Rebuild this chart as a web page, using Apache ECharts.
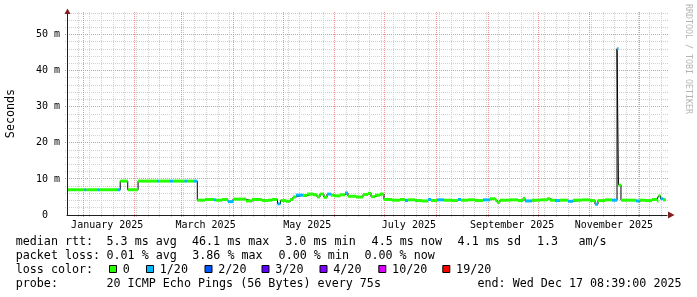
<!DOCTYPE html>
<html><head><meta charset="utf-8">
<script src="https://cdn.jsdelivr.net/npm/echarts@6/dist/echarts.min.js"></script>
<style>html,body{margin:0;padding:0;background:#fff}#c{width:697px;height:297px}</style>
</head><body><div id="c"></div>
<script>
// ---------- data ----------
const startTime = '2024-12-22T08:39';
const endTime = '2025-12-17T08:39';
const dataEndTime = '2025-12-16T18';
const yMin = 0, yMax = 56, yMinorStep = 2, yMajorStep = 10;
const yTickLabels = ['0  ', '10 m', '20 m', '30 m', '40 m', '50 m'];
const xTickLabels = ['January 2025', 'March 2025', 'May 2025', 'July 2025', 'September 2025', 'November 2025'];
const xTickLabelTimes = ['2025-01-15T12', '2025-03-15T12', '2025-05-15T12', '2025-07-15T12', '2025-09-15T12', '2025-11-15T12'];
const monthStarts = ['2025-01-01', '2025-02-01', '2025-03-01', '2025-04-01', '2025-05-01', '2025-06-01',
  '2025-07-01', '2025-08-01', '2025-09-01', '2025-10-01', '2025-11-01', '2025-12-01'];
const firstSunday = '2024-12-22';

// median rtt (ms) per segment start, and lost pings (of 20) for that segment
const medianTimes = ['2024-12-22T08:39', '2025-01-01T20', '2025-01-03', '2025-01-09T19', '2025-01-11', '2025-01-21T19',
  '2025-01-23T07', '2025-01-27T19', '2025-02-03', '2025-02-14T14', '2025-02-15T14', '2025-02-21T22', '2025-02-24',
  '2025-03-02T22', '2025-03-04T16', '2025-03-08T14', '2025-03-10T13', '2025-03-15T04', '2025-03-20T13', '2025-03-21T18',
  '2025-03-25T09', '2025-03-28T23', '2025-03-31T23', '2025-04-08T18', '2025-04-12T09', '2025-04-18T09', '2025-04-21T23',
  '2025-04-24T09', '2025-04-27T16', '2025-04-29T11', '2025-05-02T18', '2025-05-05T04', '2025-05-06T23', '2025-05-08T18',
  '2025-05-12T23', '2025-05-15T09', '2025-05-18T23', '2025-05-21T09', '2025-05-23T04', '2025-05-25T13', '2025-05-27T09',
  '2025-05-29T18', '2025-05-31T13', '2025-06-04T04', '2025-06-07T04', '2025-06-08T23', '2025-06-13T18', '2025-06-17T23',
  '2025-06-20T23', '2025-06-22T18', '2025-06-25T04', '2025-06-28T04', '2025-06-30T13', '2025-07-05T09', '2025-07-10T04',
  '2025-07-13T04', '2025-07-14T23', '2025-07-19T04', '2025-07-23T09', '2025-07-26T23', '2025-07-28T18', '2025-08-01T09',
  '2025-08-05T13', '2025-08-10T09', '2025-08-13T23', '2025-08-15T18', '2025-08-19T23', '2025-08-24T04', '2025-08-28T23',
  '2025-09-02T04', '2025-09-05T04', '2025-09-06T09', '2025-09-08T04', '2025-09-14T04', '2025-09-18T23', '2025-09-21T23',
  '2025-09-23T04', '2025-09-27T09', '2025-10-02T04', '2025-10-06T09', '2025-10-08T04', '2025-10-11T04', '2025-10-14T04',
  '2025-10-18T23', '2025-10-21T23', '2025-10-27T09', '2025-11-01T04', '2025-11-04T04', '2025-11-05T23', '2025-11-10T04',
  '2025-11-14T09', '2025-11-17T09', '2025-11-18T06', '2025-11-19T18', '2025-11-28T18', '2025-12-01T04', '2025-12-04T04',
  '2025-12-08T09', '2025-12-11T09', '2025-12-12T06', '2025-12-13T11', '2025-12-14T23'];
const medianValues = [7.0, 7.0, 7.0, 7.0, 7.0, 7.0,
  9.4, 7.0, 9.4, 9.4, 9.4, 9.4, 9.4,
  9.4, 9.4, 9.4, 4.1, 4.3, 4.2, 4.1,
  4.3, 3.7, 4.4, 3.9, 4.3, 4.0, 4.1,
  4.3, 3.1, 4.0, 3.8, 4.3, 5.0, 5.5,
  5.4, 5.8, 5.6, 5.0, 5.8, 4.9, 5.8,
  5.5, 5.3, 5.6, 6.1, 5.2, 5.0, 5.7,
  6.0, 5.1, 5.5, 5.8, 4.3, 4.1, 4.3,
  4.0, 4.2, 4.0, 3.9, 4.3, 4.0, 4.2,
  4.1, 4.0, 4.3, 4.1, 4.2, 4.0, 4.2,
  4.5, 4.1, 3.5, 4.1, 4.2, 4.0, 4.6,
  3.9, 4.1, 4.2, 4.5, 4.1, 4.0, 4.1,
  3.8, 4.1, 4.2, 4.0, 3.0, 4.0, 4.2,
  4.1, 46.1, 8.3, 4.1, 3.9, 4.1, 4.0,
  4.3, 3.9, 5.3, 4.5, 4.2];
const medianLoss = [0, 1, 0, 1, 0, 1,
  0, 0, 0, 1, 0, 1, 0,
  1, 0, 1, 0, 0, 1, 0,
  0, 1, 0, 0, 0, 0, 0,
  0, 1, 0, 0, 0, 0, 1,
  0, 0, 0, 0, 0, 0, 1,
  0, 0, 0, 1, 0, 0, 0,
  0, 0, 0, 0, 0, 0, 0,
  1, 0, 0, 0, 1, 0, 1,
  0, 0, 1, 0, 0, 0, 1,
  0, 0, 0, 0, 0, 0, 0,
  1, 0, 0, 0, 0, 1, 0,
  1, 0, 0, 0, 1, 0, 0,
  1, 1, 0, 0, 1, 0, 0,
  0, 0, 0, 1, 0];

const lossThresholds = [0, 1, 2, 3, 4, 10, 19];
const lossLabels = ['0', '1/20', '2/20', '3/20', '4/20', '10/20', '19/20'];
const lossColors = ['#26ff00', '#00b8ff', '#0059ff', '#5e00ff', '#7e00ff', '#dd00ff', '#ff0000'];

const rttStats = ['median rtt:', '5.3 ms avg', '46.1 ms max', '3.0 ms min', '4.5 ms now', '4.1 ms sd', '1.3', 'am/s'];
const lossStats = ['packet loss:', '0.01 % avg', '3.86 % max', '0.00 % min', '0.00 % now'];
const probeInfo = ['probe:', '20 ICMP Echo Pings (56 Bytes) every 75s', 'end: Wed Dec 17 08:39:00 2025'];
const yAxisTitle = 'Seconds';
const watermark = 'RRDTOOL / TOBI OETIKER';

// ---------- build ----------
function toMs(s) {
  if (s.length === 10) s += 'T00:00';
  else if (s.length === 13) s += ':00';
  return Date.parse(s + ':00Z');
}
const startMs = toMs(startTime), endMs = toMs(endTime);
const monthMs = monthStarts.map(toMs);
const labelMs = xTickLabelTimes.map(toMs);
const vGrid = [];
for (let t = toMs(firstSunday); t <= endMs; t += 7 * 86400000) if (t > startMs && monthMs.indexOf(t) < 0) vGrid.push([t, 0]);
monthMs.forEach(t => vGrid.push([t, 1]));
const hGrid = [];
for (let v = yMin + yMinorStep; v <= yMax; v += yMinorStep) hGrid.push([v, v % yMajorStep === 0 ? 1 : 0]);
const yMajorTicks = [];
for (let v = yMin; v <= yMax; v += yMajorStep) yMajorTicks.push(v);

const tMs = medianTimes.map(toMs);
const lineData = tMs.map((t, i) => [t, medianValues[i]]);
lineData.push([toMs(dataEndTime), medianValues[medianValues.length - 1]]);
const bandData = tMs.map((t, i) => [t, i + 1 < tMs.length ? tMs[i + 1] : toMs(dataEndTime), medianValues[i], medianLoss[i]]);
function lossColor(n) {
  let c = lossColors[0];
  for (let i = 0; i < lossThresholds.length; i++) if (n >= lossThresholds[i]) c = lossColors[i];
  return c;
}

const MONO = '"DejaVu Sans Mono", monospace';
const LF = '11.7px ' + MONO;
const MAJOR = '#e99494', MINOR = '#cfcfcf', AXIS = '#1f1f1f', ARROW = '#801f1f';
const crisp = v => Math.floor(v) + 0.5;

function txt(text, x, y, extra) {
  return Object.assign({
    type: 'text', x: x, y: y, silent: true,
    style: { text: text, font: LF, fill: '#000', textAlign: 'left', textVerticalAlign: 'middle', align: 'left', verticalAlign: 'middle' }
  }, extra || {});
}
const graphics = [];
[15.7, 106.5, 192, 285.3, 371.6, 457.6, 537, 578.5].forEach((x, i) => graphics.push(txt(rttStats[i], x, 242)));
[15.7, 106.5, 192.2, 278.6, 364.4].forEach((x, i) => graphics.push(txt(lossStats[i], x, 256)));
graphics.push(txt('loss color:', 15.7, 270));
const boxX = [109, 146, 204.5, 261.5, 319.5, 378.3, 442.3];
boxX.forEach((x, i) => {
  graphics.push({ type: 'rect', silent: true, shape: { x: x + 0.5, y: 265.5, width: 7, height: 7 },
    style: { fill: lossColors[i], stroke: '#000', lineWidth: 1 } });
  graphics.push(txt(lossLabels[i], x + 13.8, 270));
});
[15.7, 106.5, 477.5].forEach((x, i) => graphics.push(txt(probeInfo[i], x, 284.3)));
graphics.push({ type: 'text', x: 10.8, y: 113.5, rotation: Math.PI / 2, silent: true,
  style: { text: yAxisTitle, font: '11.7px ' + MONO, fill: '#000', textAlign: 'center', textVerticalAlign: 'middle', align: 'center', verticalAlign: 'middle' } });
graphics.push({ type: 'text', x: 688, y: 59, rotation: -Math.PI / 2, silent: true,
  style: { text: watermark, font: '8.3px ' + MONO, fill: '#b4b4b4', textAlign: 'center', textVerticalAlign: 'middle', align: 'center', verticalAlign: 'middle' } });
// axis arrows (decoration)
graphics.push({ type: 'polygon', silent: true, z: 10, shape: { points: [[668, 211.5], [674.5, 215], [668, 218.5]] }, style: { fill: ARROW } });
graphics.push({ type: 'polygon', silent: true, z: 10, shape: { points: [[64.5, 14], [67.5, 8.5], [70.5, 14]] }, style: { fill: ARROW } });

const chart = echarts.init(document.getElementById('c'), null, { renderer: 'canvas' });
chart.setOption({
  animation: false,
  backgroundColor: '#ffffff',
  grid: { left: 67, right: 30, top: 13, bottom: 82, containLabel: false, outerBoundsMode: 'none' },
  xAxis: {
    type: 'value', min: startMs, max: endMs, position: 'bottom', z: 5,
    axisLine: { show: true, onZero: false, lineStyle: { color: AXIS, width: 1 } },
    axisTick: { show: false },
    splitLine: { show: false },
    axisLabel: { customValues: labelMs, margin: 5, color: '#000', fontFamily: MONO, fontSize: 10,
      formatter: v => { const i = labelMs.findIndex(m => Math.abs(m - v) < 1000); return i >= 0 ? xTickLabels[i] : ''; } }
  },
  yAxis: {
    type: 'value', min: yMin, max: yMax, position: 'left', z: 5,
    axisLine: { show: true, onZero: false, lineStyle: { color: AXIS, width: 1 } },
    axisTick: { show: false },
    splitLine: { show: false },
    axisLabel: { customValues: yMajorTicks, margin: 7, color: '#000', fontFamily: MONO, fontSize: 10,
      formatter: v => { const i = yMajorTicks.indexOf(v); return i >= 0 ? yTickLabels[i] : ''; } }
  },
  series: [
    { type: 'custom', name: 'vgrid', data: vGrid, z: 1, silent: true, encode: { x: 0 },
      renderItem: (params, api) => {
        const top = api.coord([api.value(0), yMax]);
        const bot = api.coord([api.value(0), yMin]);
        const x = crisp(top[0]);
        return { type: 'line', shape: { x1: x, y1: bot[1] + 2, x2: x, y2: top[1] - 2 },
          style: { stroke: api.value(1) ? MAJOR : MINOR, lineWidth: 1, lineDash: [1, 1] }, z2: api.value(1) ? 2 : 1 };
      } },
    { type: 'custom', name: 'hgrid', data: hGrid, z: 1, silent: true, encode: { y: 0 },
      renderItem: (params, api) => {
        const l = api.coord([startMs, api.value(0)]);
        const r = api.coord([endMs, api.value(0)]);
        const y = crisp(l[1]);
        return { type: 'line', shape: { x1: l[0] - 2, y1: y, x2: r[0] + 2, y2: y },
          style: { stroke: api.value(1) ? MAJOR : MINOR, lineWidth: 1, lineDash: [1, 1] }, z2: api.value(1) ? 2 : 1 };
      } },
    { type: 'line', step: 'end', data: lineData, symbol: 'none', z: 2,
      lineStyle: { color: '#000', width: 1 }, silent: true },
    { type: 'custom', name: 'loss', data: bandData, z: 3, silent: true,
      encode: { x: [0, 1], y: 2 },
      renderItem: (params, api) => {
        const p0 = api.coord([api.value(0), api.value(2)]);
        const p1 = api.coord([api.value(1), api.value(2)]);
        return { type: 'rect', shape: { x: p0[0], y: p0[1] - 1.5, width: p1[0] - p0[0], height: 3 },
          style: { fill: lossColor(api.value(3)) } };
      } }
  ],
  graphic: { elements: graphics }
});
</script></body></html>
